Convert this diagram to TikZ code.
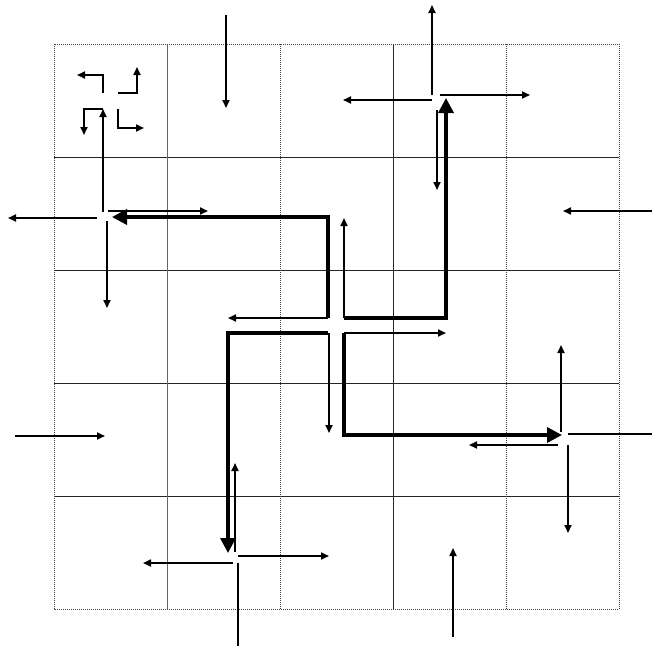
\documentclass[tikz,border=0pt]{standalone}
\usetikzlibrary{arrows.meta}
\tikzset{
  thinarr/.style={line width=1.7pt, -{Triangle[length=8pt,width=7pt]}},
  thinline/.style={line width=1.7pt},
  thickarr/.style={line width=3.4pt, line join=miter, -{Triangle[length=15pt,width=15pt]}},
  gridsolid/.style={line width=0.9pt, black!85},
  gridgray/.style={line width=0.9pt, black!60},
  griddot/.style={line width=1pt, densely dotted, black!75}
}
\begin{document}
\begin{tikzpicture}[x=1pt,y=-1pt]
\useasboundingbox (0,0) rectangle (652,646);
% grid
\foreach \yy in {157,270,383,496} \draw[gridsolid] (54,\yy) -- (619,\yy);
\draw[gridgray] (167,44) -- (167,609);
\draw[griddot] (280,44) -- (280,609);
\draw[gridsolid] (393,44) -- (393,609);
\draw[griddot] (506,44) -- (506,609);
\draw[griddot] (54,44) rectangle (619,609);
% legend
\draw[thinarr] (103,93) -- (103,75) -- (77,75);
\draw[thinarr] (118,93) -- (137,93) -- (137,67);
\draw[thinarr] (103,109) -- (84,109) -- (84,135);
\draw[thinarr] (118,109) -- (118,128) -- (144,128);
% hub top-left
\draw[thinarr] (103,212) -- (103,109);
\draw[thinarr] (97,218) -- (8,218);
\draw[thinarr] (108,211) -- (208,211);
\draw[thinarr] (107,221) -- (107,308);
\draw[thickarr] (328,318) -- (328,217) -- (112,217);
\draw[thinarr] (328,318) -- (228,318);
% hub top-right
\draw[thinarr] (432,95) -- (432,5);
\draw[thinarr] (432,100) -- (343,100);
\draw[thinarr] (440,95) -- (530,95);
\draw[thinarr] (437,110) -- (437,190);
\draw[thickarr] (344,318) -- (446,318) -- (446,98);
\draw[thinarr] (344,318) -- (344,218);
% hub bottom-right
\draw[thinarr] (561,432) -- (561,345);
\draw[thinline] (568,434) -- (652,434);
\draw[thinarr] (558,445) -- (469,445);
\draw[thinarr] (568,445) -- (568,533);
\draw[thickarr] (344,333) -- (344,435) -- (562,435);
\draw[thinarr] (344,333) -- (446,333);
% hub bottom-left
\draw[thinarr] (235,552) -- (235,463);
\draw[thinarr] (238,556) -- (329,556);
\draw[thinarr] (233,563) -- (143,563);
\draw[thinline] (238,563) -- (238,646);
\draw[thickarr] (328,333) -- (228,333) -- (228,553);
\draw[thinarr] (329,333) -- (329,433);
% outer arrows
\draw[thinarr] (226,15) -- (226,108);
\draw[thinarr] (652,211) -- (563,211);
\draw[thinarr] (15,436) -- (105,436);
\draw[thinarr] (453,637) -- (453,548);
\end{tikzpicture}
\end{document}
